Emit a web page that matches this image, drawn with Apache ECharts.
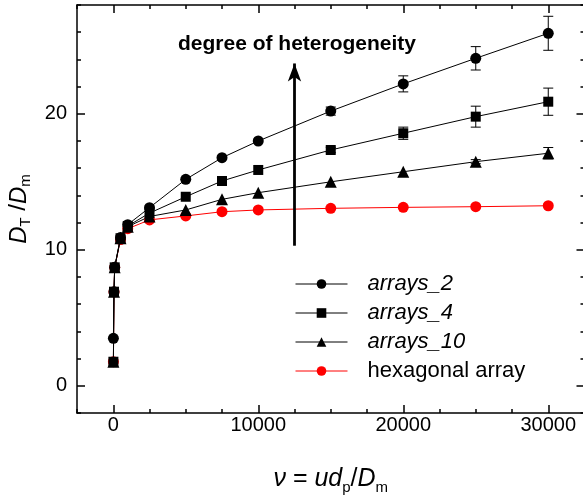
<!DOCTYPE html>
<html>
<head>
<meta charset="utf-8">
<script src="https://cdn.jsdelivr.net/npm/echarts@6/dist/echarts.min.js"></script>
<style>
  html, body { margin: 0; padding: 0; background: #fff; }
  #chart { width: 583px; height: 496px; }
</style>
</head>
<body>
<div id="chart"></div>
<script>
// Reduced velocity values (nu = u d_p / D_m)
const nuValues = [10, 50, 100, 500, 1000, 2500, 5000, 7500, 10000, 15000, 20000, 25000, 30000];

// Transverse dispersion D_T / D_m for each packing
const arrays2   = [3.49, 6.92, 8.71, 10.90, 11.85, 13.10, 15.18, 16.77, 18.00, 20.20, 22.20, 24.08, 25.92];
const arrays4   = [1.77, 6.92, 8.71, 10.85, 11.75, 12.70, 13.90, 15.06, 15.87, 17.34, 18.57, 19.79, 20.89];
const arrays10  = [1.77, 6.92, 8.71, 10.85, 11.70, 12.45, 12.93, 13.71, 14.20, 15.00, 15.74, 16.48, 17.10];
const hexagonal = [1.77, 6.90, 8.70, 10.75, 11.55, 12.20, 12.49, 12.80, 12.93, 13.05, 13.12, 13.17, 13.24];

// Standard deviations (error bars) at the highest velocities
const errNu        = [15000, 20000, 25000, 30000];
const arrays2Err   = [0.30, 0.59, 0.86, 1.25];
const arrays4Err   = [0.20, 0.45, 0.77, 1.00];
const arrays10Err  = [0.00, 0.00, 0.15, 0.42];

// Axis ticks
const xMajor = [0, 10000, 20000, 30000];
const xMinor = [-2500, 2500, 5000, 7500, 12500, 15000, 17500, 22500, 25000, 27500, 32500];
const yMajor = [0, 10, 20];
const yMinor = [-2, 2, 4, 6, 8, 12, 14, 16, 18, 22, 24, 26, 28];

// Arrow marking increasing heterogeneity
const arrowNu = 12500;
const arrowFrom = 10.3;
const arrowTo = 23.7;

const FONT = 'Liberation Sans, Arial, Helvetica, sans-serif';

function pairs(xs, ys) { return xs.map((x, i) => [x, ys[i]]); }
function bars(xs, ys, es) {
  const out = [];
  xs.forEach((x, i) => {
    if (es[i] > 0) {
      const j = nuValues.indexOf(x);
      out.push([x, ys[j] - es[i], ys[j] + es[i]]);
    }
  });
  return out;
}

const errData = []
  .concat(bars(errNu, arrays2, arrays2Err))
  .concat(bars(errNu, arrays4, arrays4Err))
  .concat(bars(errNu, arrays10, arrays10Err));

function xAxisDef(pos, ticks, len, showLine, labels) {
  return {
    type: 'value', position: pos, min: -2500, max: 32500,
    axisLine: { show: showLine, onZero: false, lineStyle: { color: '#000', width: 1.5 } },
    axisTick: { show: true, inside: true, length: len, customValues: ticks, lineStyle: { color: '#000', width: 1.5 } },
    axisLabel: labels ? {
      show: true, customValues: ticks, formatter: v => String(v),
      color: '#000', fontSize: 20, fontFamily: FONT, margin: 2
    } : { show: false },
    splitLine: { show: false }
  };
}
function yAxisDef(pos, ticks, len, showLine, labels) {
  return {
    type: 'value', position: pos, min: -2, max: 28,
    axisLine: { show: showLine, onZero: false, lineStyle: { color: '#000', width: 1.5 } },
    axisTick: { show: true, inside: true, length: len, customValues: ticks, lineStyle: { color: '#000', width: 1.5 } },
    axisLabel: labels ? {
      show: true, customValues: ticks, formatter: v => String(v),
      color: '#000', fontSize: 20, fontFamily: FONT, margin: 10
    } : { show: false },
    splitLine: { show: false }
  };
}

const xAxes = [
  xAxisDef('bottom', xMajor, 8, true, true),
  xAxisDef('bottom', xMinor, 4, false, false),
  xAxisDef('top', xMajor, 8, true, false),
  xAxisDef('top', xMinor, 4, false, false)
];
xAxes[0].name = '{i|ν}{n| = }{i|ud}{s|p}{n|/}{i|D}{s|m}';
xAxes[0].nameLocation = 'middle';
xAxes[0].nameGap = 50;
xAxes[0].nameTextStyle = {
  color: '#000', fontFamily: FONT,
  rich: {
    i: { fontStyle: 'italic', fontSize: 25, fontFamily: FONT, color: '#000', lineHeight: 32 },
    n: { fontSize: 25, fontFamily: FONT, color: '#000', lineHeight: 32 },
    s: { fontSize: 15, fontFamily: FONT, color: '#000', lineHeight: 32, verticalAlign: 'bottom' }
  }
};

const yAxes = [
  yAxisDef('left', yMajor, 8, true, true),
  yAxisDef('left', yMinor, 4, false, false),
  yAxisDef('right', yMajor, 8, true, false),
  yAxisDef('right', yMinor, 4, false, false)
];
yAxes[0].name = '{i|D}{s|T}{n| /}{i|D}{s|m}';
yAxes[0].nameLocation = 'middle';
yAxes[0].nameRotate = 90;
yAxes[0].nameGap = 36;
yAxes[0].nameTextStyle = {
  color: '#000', fontFamily: FONT,
  rich: {
    i: { fontStyle: 'italic', fontSize: 24, fontFamily: FONT, color: '#000', lineHeight: 30 },
    n: { fontSize: 24, fontFamily: FONT, color: '#000', lineHeight: 30 },
    s: { fontSize: 15, fontFamily: FONT, color: '#000', lineHeight: 30, verticalAlign: 'bottom' }
  }
};

function lineSeries(name, ys, symbol, size, color, z) {
  return {
    name, type: 'line', data: pairs(nuValues, ys),
    symbol, symbolSize: size, showSymbol: true, z,
    lineStyle: { color, width: 1 },
    itemStyle: { color, borderWidth: 0 },
    emphasis: { disabled: true },
    animation: false
  };
}

const chart = echarts.init(document.getElementById('chart'), null, { renderer: 'canvas' });
chart.setOption({
  animation: false,
  backgroundColor: '#fff',
  grid: { left: 77, top: 5, width: 507.5, height: 408, outerBoundsMode: 'none', containLabel: false },
  xAxis: xAxes,
  yAxis: yAxes,
  legend: {
    left: 295, top: 273, orient: 'vertical', padding: 0,
    itemWidth: 52, itemHeight: 12, itemGap: 7,
    lineStyle: { width: 1 },
    textStyle: { fontSize: 22, fontFamily: FONT, color: '#000', padding: [0, 0, 0, 15] },
    data: [
      { name: 'arrays_2', textStyle: { fontStyle: 'italic' } },
      { name: 'arrays_4', textStyle: { fontStyle: 'italic' } },
      { name: 'arrays_10', textStyle: { fontStyle: 'italic' } },
      { name: 'hexagonal array' }
    ]
  },
  graphic: [{
    type: 'text', x: 297, y: 44,
    style: {
      text: 'degree of heterogeneity', fill: '#000',
      font: 'bold 21px ' + FONT, fontSize: 21, fontWeight: 'bold', fontFamily: FONT,
      align: 'center', verticalAlign: 'middle', textAlign: 'center', textVerticalAlign: 'middle'
    }
  }],
  series: [
    lineSeries('arrays_2', arrays2, 'circle', 11, '#000', 5),
    lineSeries('arrays_4', arrays4, 'rect', 10, '#000', 4),
    lineSeries('arrays_10', arrays10, 'triangle', 12, '#000', 3),
    Object.assign(lineSeries('hexagonal array', hexagonal, 'circle', 11, '#ff0000', 2), {
      markLine: {
        silent: true, animation: false,
        symbol: ['none', 'arrow'], symbolSize: [10, 18],
        lineStyle: { color: '#000', width: 2.8, type: 'solid' },
        label: { show: false },
        emphasis: { disabled: true },
        data: [[{ coord: [arrowNu, arrowFrom] }, { coord: [arrowNu, arrowTo] }]]
      }
    }),
    {
      name: 'errors', type: 'custom', z: 6, silent: true,
      data: errData,
      renderItem(params, api) {
        const x = api.value(0);
        const lo = api.coord([x, api.value(1)]);
        const hi = api.coord([x, api.value(2)]);
        const hw = 5;
        const st = { stroke: '#000', lineWidth: 1 };
        return {
          type: 'group',
          children: [
            { type: 'line', shape: { x1: lo[0], y1: lo[1], x2: hi[0], y2: hi[1] }, style: st },
            { type: 'line', shape: { x1: lo[0] - hw, y1: lo[1], x2: lo[0] + hw, y2: lo[1] }, style: st },
            { type: 'line', shape: { x1: hi[0] - hw, y1: hi[1], x2: hi[0] + hw, y2: hi[1] }, style: st }
          ]
        };
      }
    }
  ]
});
</script>
</body>
</html>
